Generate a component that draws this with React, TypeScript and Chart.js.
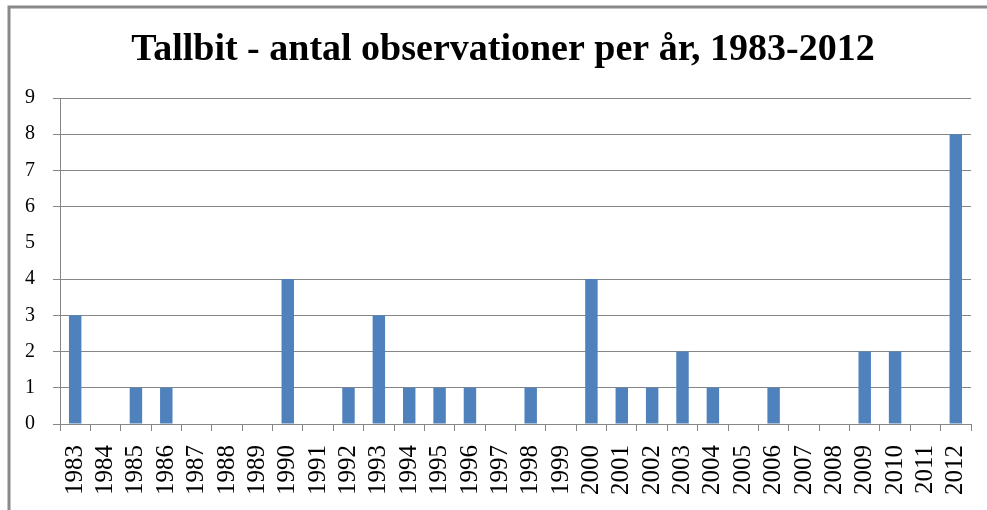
import React, { useEffect, useRef } from "react";
import { Chart, registerables } from "chart.js";

Chart.register(...registerables);

const years = [
  "1983", "1984", "1985", "1986", "1987", "1988", "1989", "1990", "1991", "1992",
  "1993", "1994", "1995", "1996", "1997", "1998", "1999", "2000", "2001", "2002",
  "2003", "2004", "2005", "2006", "2007", "2008", "2009", "2010", "2011", "2012",
];
const observations = [
  3, 0, 1, 1, 0, 0, 0, 4, 0, 1,
  3, 1, 1, 1, 0, 1, 0, 4, 1, 1,
  2, 1, 0, 1, 0, 0, 2, 2, 0, 8,
];
const titleText = "Tallbit - antal observationer per år, 1983-2012";
const yMax = 9;

const frameAndTitle = {
  id: "frameAndTitle",
  beforeDraw(chart: any) {
    const ctx = chart.ctx;
    ctx.save();
    ctx.fillStyle = "#ffffff";
    ctx.fillRect(0, 0, chart.width, chart.height);
    ctx.strokeStyle = "#8a8a8a";
    ctx.lineWidth = 3;
    ctx.beginPath();
    ctx.moveTo(9, chart.height);
    ctx.lineTo(9, 7);
    ctx.lineTo(chart.width, 7);
    ctx.stroke();
    ctx.restore();
  },
  afterDraw(chart: any) {
    const ctx = chart.ctx;
    ctx.save();
    ctx.fillStyle = "#000000";
    ctx.font = "bold 38px 'Liberation Serif'";
    ctx.textAlign = "center";
    ctx.textBaseline = "alphabetic";
    ctx.fillText(titleText, 503, 60);
    ctx.restore();
  },
};

export default function App() {
  const ref = useRef<HTMLCanvasElement | null>(null);

  useEffect(() => {
    if (!ref.current) return;
    const chart = new Chart(ref.current, {
      type: "bar",
      data: {
        labels: years,
        datasets: [
          {
            data: observations,
            backgroundColor: "#4F81BD",
            borderWidth: 0,
            categoryPercentage: 1,
            barPercentage: 0.41,
          },
        ],
      },
      options: {
        animation: false,
        responsive: false,
        maintainAspectRatio: false,
        layout: { padding: { top: 98, right: 16, bottom: 0, left: 0 } },
        plugins: {
          legend: { display: false },
          title: { display: false },
          tooltip: { enabled: false },
        },
        scales: {
          x: {
            offset: true,
            grid: {
              offset: true,
              drawOnChartArea: false,
              drawTicks: true,
              tickLength: 7,
              color: "#868686",
            },
            border: { display: true, color: "#868686", width: 1 },
            ticks: {
              autoSkip: false,
              minRotation: 90,
              maxRotation: 90,
              padding: 14,
              color: "#000000",
              font: { family: "'Liberation Serif'", size: 25 },
            },
            afterFit(scale: any) {
              scale.height = 86;
              scale.paddingLeft = 0;
              scale.paddingRight = 0;
            },
          },
          y: {
            min: 0,
            max: yMax,
            ticks: {
              stepSize: 1,
              padding: 18,
              color: "#000000",
              font: { family: "'Liberation Serif'", size: 20 },
            },
            grid: {
              tickLength: 7,
              color: (c: any) => (c.tick && c.tick.value === 5 ? "rgba(0,0,0,0)" : "#868686"),
            },
            border: { display: true, color: "#868686", width: 1 },
            afterFit(scale: any) {
              scale.width = 60;
              scale.paddingTop = 0;
              scale.paddingBottom = 0;
            },
          },
        },
      },
      plugins: [frameAndTitle],
    });
    return () => chart.destroy();
  }, []);

  return (
    <div style={{ position: "fixed", left: 0, top: 0, width: 987, height: 510, background: "#fff" }}>
      <canvas ref={ref} width={987} height={510} style={{ width: 987, height: 510, display: "block" }} />
    </div>
  );
}
